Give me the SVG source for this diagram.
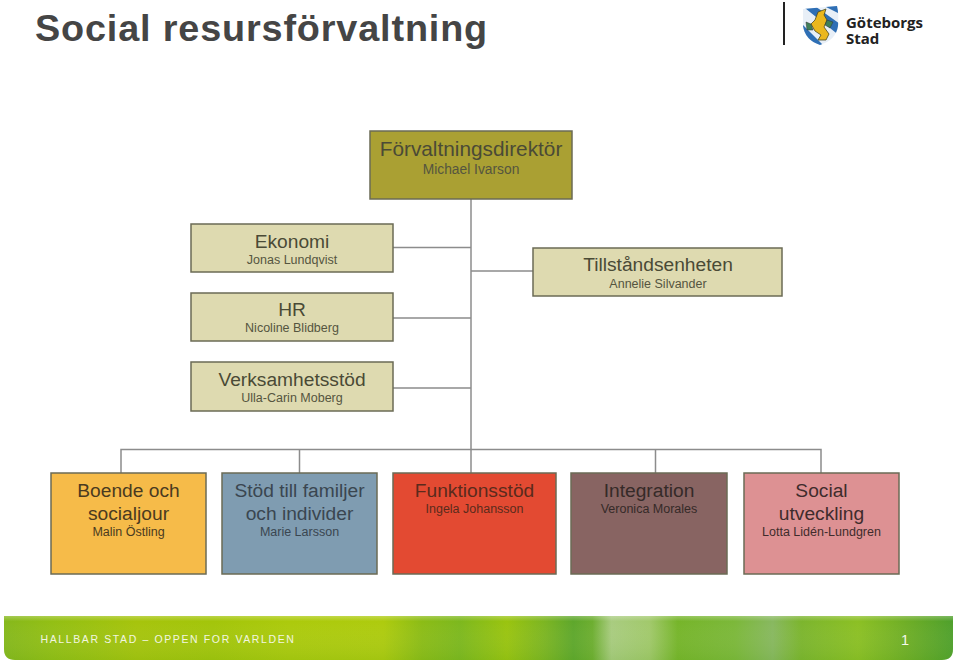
<svg xmlns="http://www.w3.org/2000/svg" width="960" height="667" viewBox="0 0 960 667">
<style>
text{font-family:"Liberation Sans",Arial,sans-serif;text-anchor:middle}
.box{stroke:#6b6b55;stroke-width:1.5}
.t{font-size:19.200px;fill:#4a4a36}
.s{font-size:12.500px;fill:#55553f}
.logo{font-family:"Open Sans","Liberation Sans",sans-serif;font-size:15px;font-weight:bold;fill:#222;text-anchor:start}
.c{stroke:#8c8c8c;stroke-width:1.5;fill:none}
</style>
<defs>
<linearGradient id="foot" x1="0" x2="1" y1="0" y2="0">
<stop offset="0" stop-color="#86b81c"/>
<stop offset=".05" stop-color="#93bf14"/>
<stop offset=".14" stop-color="#a6c40c"/>
<stop offset=".22" stop-color="#a3c50a"/>
<stop offset=".3" stop-color="#acca0c"/>
<stop offset=".4" stop-color="#aecb0e"/>
<stop offset=".44" stop-color="#8cbc16"/>
<stop offset=".48" stop-color="#7db81e"/>
<stop offset=".53" stop-color="#9ac40f"/>
<stop offset=".57" stop-color="#7cb522"/>
<stop offset=".6" stop-color="#5ea72c"/>
<stop offset=".62" stop-color="#6dae30"/>
<stop offset=".64" stop-color="#a9cc80"/>
<stop offset=".68" stop-color="#a2c96c"/>
<stop offset=".71" stop-color="#76b52a"/>
<stop offset=".77" stop-color="#7cb83a"/>
<stop offset=".81" stop-color="#88b860"/>
<stop offset=".84" stop-color="#7cb52e"/>
<stop offset=".9" stop-color="#8cc024"/>
<stop offset=".95" stop-color="#6fae26"/>
<stop offset="1" stop-color="#4fa02c"/>
</linearGradient>
<linearGradient id="shade" x1="0" x2="0" y1="0" y2="1">
<stop offset="0" stop-color="#ffffff" stop-opacity=".25"/>
<stop offset=".12" stop-color="#ffffff" stop-opacity="0"/>
<stop offset="1" stop-color="#4f9a1e" stop-opacity=".12"/>
</linearGradient>
<clipPath id="shield"><path d="M803 9 L837 6 Q839 14 838 26 Q836 40 820 45 Q805 40 803 26 Z"/></clipPath>
</defs>
<rect width="960" height="667" fill="#fff"/>
<text id="title" x="261.500" y="41" style="font-size:37.800px;font-weight:bold;fill:#454545;letter-spacing:.85px">Social resursförvaltning</text>
<g id="logo">
<rect x="783" y="2" width="2" height="43" fill="#222"/>
<g clip-path="url(#shield)">
<rect x="800" y="4" width="40" height="42" fill="#e8eff7"/>
<path d="M800 4H812L840 24V36ZM800 22L824 46H808L800 38ZM820 4H840V14Z" fill="#2f6fb5"/>
</g>
<path d="M818 12 L826 9 L824 15 L827 20 L824 27 L829 34 L826 40 L818 40 L821 35 L815 31 L811 24 L815 20Z" fill="#eab71e" stroke="#4a4a20" stroke-width=".8"/>
<path d="M827 20L833 22L830 28L825 25Z M811 24L806 22L807 30L813 30Z" fill="#3f7f58" stroke="#333" stroke-width=".5"/>
<text class="logo" x="846" y="28">Göteborgs</text>
<text class="logo" x="846" y="44">Stad</text>
</g>
<g id="connectors" class="c">
<path d="M471 199V473"/>
<path d="M393 247.500H471M393 318H471M393 388H471M471 271H533"/>
<path d="M121 473V449.500H821V473M299.500 449.500V473M655.500 449.500V473"/>
</g>
<g id="n-direktor"><rect class="box" x="370" y="131" width="202" height="68" fill="#aaa033"/>
<text class="t" x="471" y="156" style="font-size:20.800px">Förvaltningsdirektör</text><text class="s" x="471" y="174" style="font-size:13.800px">Michael Ivarson</text></g>
<g id="n-ekonomi"><rect class="box" x="191" y="224" width="202" height="48" fill="#dedab0"/>
<text class="t" x="292" y="248">Ekonomi</text><text class="s" x="292" y="264">Jonas Lundqvist</text></g>
<g id="n-hr"><rect class="box" x="191" y="293" width="202" height="48" fill="#dedab0"/>
<text class="t" x="292" y="316">HR</text><text class="s" x="292" y="332">Nicoline Blidberg</text></g>
<g id="n-verksamhet"><rect class="box" x="191" y="362" width="202" height="49" fill="#dedab0"/>
<text class="t" x="292" y="386">Verksamhetsstöd</text><text class="s" x="292" y="402">Ulla-Carin Moberg</text></g>
<g id="n-tillstand"><rect class="box" x="533" y="248" width="249" height="48" fill="#dedab0"/>
<text class="t" x="658" y="271">Tillståndsenheten</text><text class="s" x="658" y="288">Annelie Silvander</text></g>
<g id="n-boende"><rect class="box" x="51" y="473" width="155" height="101" fill="#f6bb49"/>
<text class="t" x="128.500" y="497" style="fill:#4a3a20">Boende och</text><text class="t" x="128.500" y="520" style="fill:#4a3a20">socialjour</text><text class="s" x="128.500" y="536" style="fill:#4a3a20">Malin Östling</text></g>
<g id="n-stod"><rect class="box" x="222" y="473" width="155" height="101" fill="#7f9cb1"/>
<text class="t" x="299.500" y="497" style="fill:#3a4650">Stöd till familjer</text><text class="t" x="299.500" y="520" style="fill:#3a4650">och individer</text><text class="s" x="299.500" y="536" style="fill:#3a4650">Marie Larsson</text></g>
<g id="n-funktion"><rect class="box" x="393" y="473" width="163" height="101" fill="#e34a32"/>
<text class="t" x="474.500" y="497" style="fill:#5a2a1c">Funktionsstöd</text><text class="s" x="474.500" y="513" style="fill:#5a2a1c">Ingela Johansson</text></g>
<g id="n-integration"><rect class="box" x="571" y="473" width="156" height="101" fill="#886462"/>
<text class="t" x="649" y="497" style="fill:#352a28">Integration</text><text class="s" x="649" y="513" style="fill:#352a28">Veronica Morales</text></g>
<g id="n-social"><rect class="box" x="744" y="473" width="155" height="101" fill="#dd9193"/>
<text class="t" x="821.500" y="497" style="fill:#3f2c2c">Social</text><text class="t" x="821.500" y="520" style="fill:#3f2c2c">utveckling</text><text class="s" x="821.500" y="536" style="fill:#3f2c2c">Lotta Lidén-Lundgren</text></g>
<g id="footer">
<path d="M4 616H953V649Q953 660 942 660H15Q4 660 4 649Z" fill="url(#foot)"/>
<path d="M4 616H953V649Q953 660 942 660H15Q4 660 4 649Z" fill="url(#shade)"/>
<text x="168" y="643" style="font-size:10.500px;fill:#f2f6e0;letter-spacing:1.620px">HALLBAR STAD – OPPEN FOR VARLDEN</text>
<text x="905" y="645" style="font-size:14.500px;fill:#f4f8ea">1</text>
</g>
</svg>
